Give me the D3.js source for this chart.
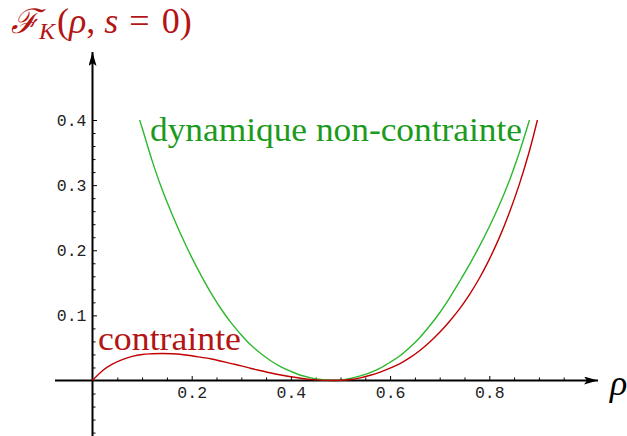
<!DOCTYPE html>
<html>
<head>
<meta charset="utf-8">
<script src="https://cdn.jsdelivr.net/npm/d3@7/dist/d3.min.js"></script>
<style>
  html, body { margin: 0; padding: 0; background: #fff; }
  svg { display: block; }
</style>
</head>
<body>
<svg id="chart" width="627" height="436"></svg>
<script>
// Free energy F_K(rho, s=0): unconstrained dynamics vs constrained
const rhoFree = [0.095, 0.10, 0.12, 0.14, 0.16, 0.18, 0.20, 0.22, 0.24, 0.26, 0.28, 0.30, 0.32, 0.34, 0.36, 0.38, 0.40, 0.42, 0.44, 0.46, 0.485, 0.50, 0.52, 0.54, 0.56, 0.58, 0.60, 0.62, 0.64, 0.66, 0.68, 0.70, 0.72, 0.74, 0.76, 0.78, 0.80, 0.82, 0.84, 0.86, 0.881];
const fFree   = [0.400, 0.388, 0.338, 0.294, 0.256, 0.221, 0.189, 0.160, 0.133, 0.109, 0.088, 0.070, 0.054, 0.041, 0.030, 0.021, 0.014, 0.008, 0.004, 0.0015, 0, 0.0005, 0.003, 0.007, 0.012, 0.019, 0.028, 0.038, 0.051, 0.066, 0.084, 0.104, 0.127, 0.152, 0.178, 0.206, 0.236, 0.269, 0.306, 0.349, 0.400];

const rhoCons = [0, 0.02, 0.04, 0.06, 0.08, 0.10, 0.12, 0.14, 0.16, 0.18, 0.20, 0.22, 0.24, 0.26, 0.28, 0.30, 0.32, 0.34, 0.36, 0.38, 0.40, 0.42, 0.44, 0.46, 0.485, 0.50, 0.52, 0.54, 0.56, 0.58, 0.60, 0.62, 0.64, 0.66, 0.68, 0.70, 0.72, 0.74, 0.76, 0.78, 0.80, 0.82, 0.84, 0.86, 0.88, 0.897];
const fCons   = [0, 0.015, 0.025, 0.032, 0.037, 0.040, 0.041, 0.0415, 0.041, 0.040, 0.038, 0.0355, 0.033, 0.0295, 0.026, 0.0225, 0.0185, 0.015, 0.0115, 0.0085, 0.0058, 0.0035, 0.0017, 0.0005, 0, 0.0003, 0.0015, 0.004, 0.008, 0.013, 0.019, 0.026, 0.035, 0.046, 0.059, 0.074, 0.091, 0.110, 0.132, 0.157, 0.186, 0.219, 0.257, 0.300, 0.350, 0.400];

const xTickValues = [0.2, 0.4, 0.6, 0.8];
const xTickLabels = ["0.2", "0.4", "0.6", "0.8"];
const yTickValues = [0.1, 0.2, 0.3, 0.4];
const yTickLabels = ["0.1", "0.2", "0.3", "0.4"];

const svg = d3.select("#chart");

const x = d3.scaleLinear().domain([0, 1]).range([92.5, 588.5]);
const y = d3.scaleLinear().domain([0, 0.4]).range([380.5, 120]);

const RED = "#c00000";
const RED_TXT = "#b31414";
const GREEN = "#2db82d";
const GREEN_TXT = "#1c9a1c";

// Arrow markers for the axes
const defs = svg.append("defs");
defs.append("marker")
  .attr("id", "arrow")
  .attr("viewBox", "0 0 14 8")
  .attr("refX", 14).attr("refY", 4)
  .attr("markerWidth", 14).attr("markerHeight", 8)
  .attr("markerUnits", "userSpaceOnUse")
  .attr("orient", "auto")
  .append("path").attr("d", "M0,0 L14,4 L0,8 L3,4 Z").attr("fill", "#000");

// Axis lines
svg.append("line")
  .attr("x1", 55).attr("x2", x(1.0) + 9.5)
  .attr("y1", y(0)).attr("y2", y(0))
  .attr("stroke", "#000").attr("stroke-width", 2)
  .attr("marker-end", "url(#arrow)");
svg.append("line")
  .attr("x1", x(0)).attr("x2", x(0))
  .attr("y1", 436).attr("y2", 52)
  .attr("stroke", "#000").attr("stroke-width", 2)
  .attr("marker-end", "url(#arrow)");

// X ticks (pointing up), minor every 0.05
const xMinor = d3.range(1, 20).map(i => i * 0.05).filter(v => !xTickValues.some(t => Math.abs(t - v) < 1e-9));
const xTickG = svg.append("g").attr("transform", `translate(0,${y(0)})`);
xTickG.call(d3.axisTop(x).tickValues(xMinor).tickSize(3).tickFormat(""));
xTickG.call(g => g.select(".domain").remove());
const xMajorG = svg.append("g").attr("transform", `translate(0,${y(0)})`);
xMajorG.call(d3.axisTop(x).tickValues(xTickValues).tickSize(4.5).tickFormat(""));
xMajorG.call(g => g.select(".domain").remove());
[xTickG, xMajorG].forEach(g => g.selectAll("line").attr("stroke", "#000").attr("stroke-width", 1));

// X tick labels
const xLab = svg.append("g").attr("transform", `translate(0,${y(0)})`)
  .call(d3.axisBottom(x).tickValues(xTickValues).tickSize(0).tickPadding(6)
    .tickFormat((d, i) => xTickLabels[i]));
xLab.select(".domain").remove();
xLab.selectAll("text")
  .attr("font-family", "'Liberation Mono', 'DejaVu Sans Mono', monospace")
  .attr("font-size", 16.5).attr("fill", "#222");

// Y ticks (pointing right), minor every 0.02
const yMinor = d3.range(-4, 21).map(i => i * 0.02).filter(v => Math.abs(v) > 1e-9 && !yTickValues.some(t => Math.abs(t - v) < 1e-9));
const yTickG = svg.append("g").attr("transform", `translate(${x(0)},0)`);
yTickG.call(d3.axisRight(y).tickValues(yMinor).tickSize(3).tickFormat(""));
yTickG.call(g => g.select(".domain").remove());
const yMajorG = svg.append("g").attr("transform", `translate(${x(0)},0)`);
yMajorG.call(d3.axisRight(y).tickValues(yTickValues).tickSize(4.5).tickFormat(""));
yMajorG.call(g => g.select(".domain").remove());
[yTickG, yMajorG].forEach(g => g.selectAll("line").attr("stroke", "#000").attr("stroke-width", 1));

// Y tick labels
const yLab = svg.append("g").attr("transform", `translate(${x(0)},0)`)
  .call(d3.axisLeft(y).tickValues(yTickValues).tickSize(0).tickPadding(6)
    .tickFormat((d, i) => yTickLabels[i]));
yLab.select(".domain").remove();
yLab.selectAll("text")
  .attr("font-family", "'Liberation Mono', 'DejaVu Sans Mono', monospace")
  .attr("font-size", 16.5).attr("fill", "#222");

// Curves
const line = d3.line().x(d => x(d[0])).y(d => y(d[1])).curve(d3.curveCatmullRom.alpha(0.5));
svg.append("path")
  .datum(rhoFree.map((r, i) => [r, fFree[i]]))
  .attr("d", line).attr("fill", "none")
  .attr("stroke", GREEN).attr("stroke-width", 1.4);
svg.append("path")
  .datum(rhoCons.map((r, i) => [r, fCons[i]]))
  .attr("d", line).attr("fill", "none")
  .attr("stroke", RED).attr("stroke-width", 1.4);

// Curve labels
const serif = "'Liberation Serif', 'DejaVu Serif', serif";
svg.append("text")
  .attr("x", 150).attr("y", 141)
  .attr("font-family", serif).attr("font-size", 34)
  .attr("textLength", 372).attr("lengthAdjust", "spacingAndGlyphs")
  .attr("fill", GREEN_TXT)
  .text("dynamique non-contrainte");
svg.append("text")
  .attr("x", 98).attr("y", 350)
  .attr("font-family", serif).attr("font-size", 34)
  .attr("textLength", 143).attr("lengthAdjust", "spacingAndGlyphs")
  .attr("fill", RED_TXT)
  .text("contrainte");

// Axis titles
const title = svg.append("text")
  .attr("x", 11).attr("y", 33)
  .attr("font-family", serif).attr("font-size", 36)
  .attr("fill", RED_TXT);
title.append("tspan").attr("font-family", "'DejaVu Serif', serif").attr("font-style", "italic").attr("font-size", 34).text("ℱ");
title.append("tspan").attr("font-style", "italic").attr("font-size", 24).attr("dy", 6).text("K");
title.append("tspan").attr("dy", -6).attr("dx", 2).text("(");
title.append("tspan").attr("font-style", "italic").text("ρ");
title.append("tspan").text(",\u00a0");
title.append("tspan").attr("font-style", "italic").text("s");
title.append("tspan").attr("dx", 2).text("\u00a0=\u00a0");
title.append("tspan").attr("dx", 3).text("0)");

svg.append("text")
  .attr("x", 610).attr("y", 395)
  .attr("font-family", serif).attr("font-size", 36)
  .attr("font-style", "italic").attr("fill", "#000")
  .text("ρ");
</script>
</body>
</html>
